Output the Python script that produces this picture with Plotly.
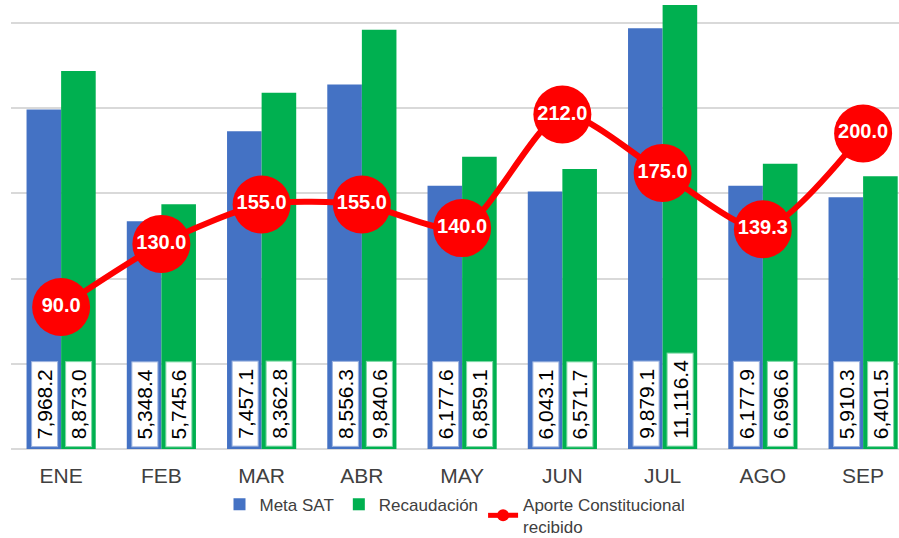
import plotly.graph_objects as go

months = ["ENE", "FEB", "MAR", "ABR", "MAY", "JUN", "JUL", "AGO", "SEP"]
meta_sat = [7968.2, 5348.4, 7457.1, 8556.3, 6177.6, 6043.1, 9879.1, 6177.9, 5910.3]
recaudacion = [8873.0, 5745.6, 8362.8, 9840.6, 6859.1, 6571.7, 11116.4, 6696.6, 6401.5]
aporte = [90.0, 130.0, 155.0, 155.0, 140.0, 212.0, 175.0, 139.3, 200.0]

BLUE = "#4472C4"
GREEN = "#00B050"
RED = "#FF0000"
FONT = "Liberation Sans, Arial, sans-serif"

fig = go.Figure()
fig.add_trace(go.Bar(x=months, y=meta_sat, name="Meta SAT", marker=dict(color=BLUE, line_width=0)))
fig.add_trace(go.Bar(x=months, y=recaudacion, name="Recaudación", marker=dict(color=GREEN, line_width=0)))
fig.add_trace(go.Scatter(
    x=months, y=aporte, name="Aporte Constitucional<br>recibido", yaxis="y2",
    mode="lines+markers",
    line=dict(color=RED, width=6, shape="spline", smoothing=0.7),
    marker=dict(color=RED, size=58, line_width=0),
))
fig.add_trace(go.Scatter(
    x=months, y=aporte, yaxis="y2", mode="text", showlegend=False,
    text=[f"<b>{v:.1f}</b>" for v in aporte], textposition="middle center",
    textfont=dict(color="white", size=20, family=FONT),
))

# bar value labels: white boxes at the bottom of each bar, rotated
NB = "\u00a0"
for i, m in enumerate(months):
    for vals, shift, col in ((meta_sat, -17, "#9DB4E0"), (recaudacion, 17, "#7FD8A7")):
        fig.add_annotation(
            x=m, y=0, xref="x", yref="y", xshift=shift, yshift=2,
            text=f"{NB}{vals[i]:,.1f}{NB}", textangle=-90, showarrow=False,
            yanchor="bottom", xanchor="center",
            font=dict(size=21, color="black", family=FONT),
            bgcolor="white", bordercolor=col, borderwidth=1, borderpad=1,
        )

fig.update_layout(
    width=899, height=538,
    margin=dict(l=11, r=0, t=5, b=89, autoexpand=False),
    paper_bgcolor="white", plot_bgcolor="white",
    barmode="group", bargap=0.31, bargroupgap=0,
    font=dict(family=FONT),
    showlegend=True,
    legend=dict(orientation="h", x=0.5, xanchor="center", y=-0.085, yanchor="top",
                font=dict(size=17, color="#404040"), itemsizing="constant",
                tracegroupgap=0, itemwidth=30),
    xaxis=dict(range=[-0.5, 8.358], showline=False, showgrid=False, zeroline=False,
               tickfont=dict(size=21, color="#404040"), ticklabelstandoff=12),
    yaxis=dict(range=[0, 10423], dtick=2000, showgrid=True, gridcolor="#D9D9D9", gridwidth=1.5,
               showticklabels=False, zeroline=True, zerolinecolor="#D9D9D9", zerolinewidth=1.5),
    yaxis2=dict(range=[0, 281.4], overlaying="y", side="right", showgrid=False,
                showticklabels=False, zeroline=False),
)

fig.write_html("out.html", config={"displayModeBar": False},
               post_script="document.body.style.margin='0';document.body.style.overflow='hidden';")
